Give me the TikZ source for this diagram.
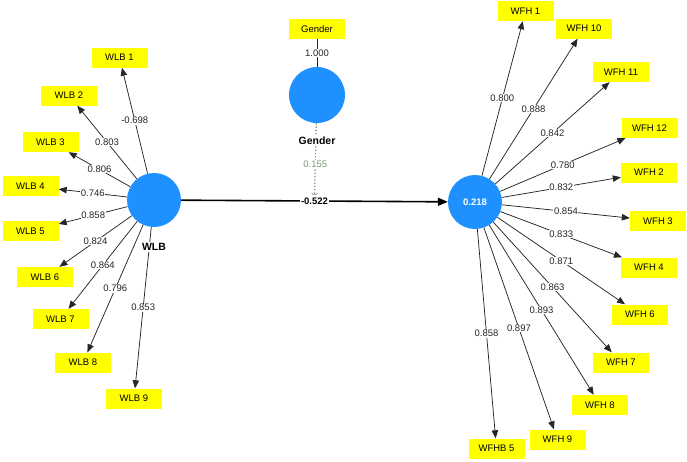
\documentclass[tikz,border=0pt]{standalone}
\usepackage{fontspec}
\setmainfont{Liberation Sans}
\usetikzlibrary{arrows.meta}
\definecolor{lvblue}{RGB}{30,144,255}
\definecolor{indyellow}{RGB}{255,255,0}
\definecolor{modgreen}{RGB}{120,150,120}
\begin{document}
\begin{tikzpicture}[x=1pt,y=-1pt,font=\fontsize{9.5}{11}\selectfont,
  indbox/.style={fill=indyellow,minimum width=56pt,minimum height=20pt,inner sep=0pt},
  latent/.style={circle,fill=lvblue,minimum size=54pt,inner sep=0pt},
  load/.style={draw=black!85,line width=0.75pt,-{Triangle[length=8pt,width=6.5pt]}},
  coef/.style={fill=white,inner sep=0.6pt,text=black!85},
  lvname/.style={fill=white,inner sep=1pt,font=\fontsize{10.5}{12}\selectfont\bfseries}]
\useasboundingbox (0,0) rectangle (687,461);
\node[latent] (wlb) at (154,200) {};
\node[latent,minimum size=56pt] (gen) at (317,95) {};
\node[latent,text=white,font=\fontsize{9.5}{11}\selectfont\bfseries] (wfh) at (475,202) {0.218};
\node[indbox] (gbox) at (317,29) {Gender};
\node[indbox] (wlb1) at (119.5,57.5) {WLB 1};
\node[indbox] (wlb2) at (69,95.5) {WLB 2};
\node[indbox] (wlb3) at (50.5,142) {WLB 3};
\node[indbox] (wlb4) at (30.5,186) {WLB 4};
\node[indbox] (wlb5) at (30.5,231) {WLB 5};
\node[indbox] (wlb6) at (45,277) {WLB 6};
\node[indbox] (wlb7) at (60.5,319) {WLB 7};
\node[indbox] (wlb8) at (83,362.5) {WLB 8};
\node[indbox] (wlb9) at (134,398.5) {WLB 9};
\node[indbox] (wfh1) at (525.5,11) {WFH 1};
\node[indbox] (wfh10) at (584,28.5) {WFH 10};
\node[indbox] (wfh11) at (621,72) {WFH 11};
\node[indbox] (wfh12) at (649.5,128) {WFH 12};
\node[indbox] (wfh2) at (649,172.5) {WFH 2};
\node[indbox] (wfh3) at (658,221) {WFH 3};
\node[indbox] (wfh4) at (649,267.5) {WFH 4};
\node[indbox] (wfh6) at (640,314.5) {WFH 6};
\node[indbox] (wfh7) at (621,362.5) {WFH 7};
\node[indbox] (wfh8) at (600,405) {WFH 8};
\node[indbox] (wfh9) at (557.5,439.5) {WFH 9};
\node[indbox] (wfhb5) at (496.5,448.5) {WFHB 5};
\draw[load] (wlb) -- node[coef]{-0.698} (wlb1);
\draw[load] (wlb) -- node[coef]{0.803} (wlb2);
\draw[load] (wlb) -- node[coef]{0.806} (wlb3);
\draw[load] (wlb) -- node[coef]{0.746} (wlb4);
\draw[load] (wlb) -- node[coef]{0.858} (wlb5);
\draw[load] (wlb) -- node[coef]{0.824} (wlb6);
\draw[load] (wlb) -- node[coef]{0.864} (wlb7);
\draw[load] (wlb) -- node[coef]{0.796} (wlb8);
\draw[load] (wlb) -- node[coef]{0.853} (wlb9);
\draw[load] (wfh) -- node[coef]{0.800} (wfh1);
\draw[load] (wfh) -- node[coef]{0.888} (wfh10);
\draw[load] (wfh) -- node[coef]{0.842} (wfh11);
\draw[load] (wfh) -- node[coef]{0.780} (wfh12);
\draw[load] (wfh) -- node[coef]{0.832} (wfh2);
\draw[load] (wfh) -- node[coef]{0.854} (wfh3);
\draw[load] (wfh) -- node[coef]{0.833} (wfh4);
\draw[load] (wfh) -- node[coef]{0.871} (wfh6);
\draw[load] (wfh) -- node[coef]{0.863} (wfh7);
\draw[load] (wfh) -- node[coef]{0.893} (wfh8);
\draw[load] (wfh) -- node[coef]{0.897} (wfh9);
\draw[load] (wfh) -- node[coef]{0.858} (wfhb5);
\draw[black!85,line width=0.75pt] (gbox) -- node[coef]{1.000} (gen);
\draw[line width=1.6pt,-{Triangle[length=10pt,width=8pt]}] (wlb) -- node[coef,text=black,font=\fontsize{9.5}{11}\selectfont\bfseries] (eff) {-0.522} (wfh);
\draw[modgreen,dotted,line width=1.3pt,-{Arc Barb[length=2.5pt,width=6pt,line width=0.6pt]},shorten >=1pt] (gen) -- node[coef,pos=0.56,text=modgreen]{0.155} (eff.north);
\node[lvname] (gname) at (317,141) {Gender};
\node[lvname] (wlbname) at (154,247) {WLB};
\end{tikzpicture}
\end{document}
